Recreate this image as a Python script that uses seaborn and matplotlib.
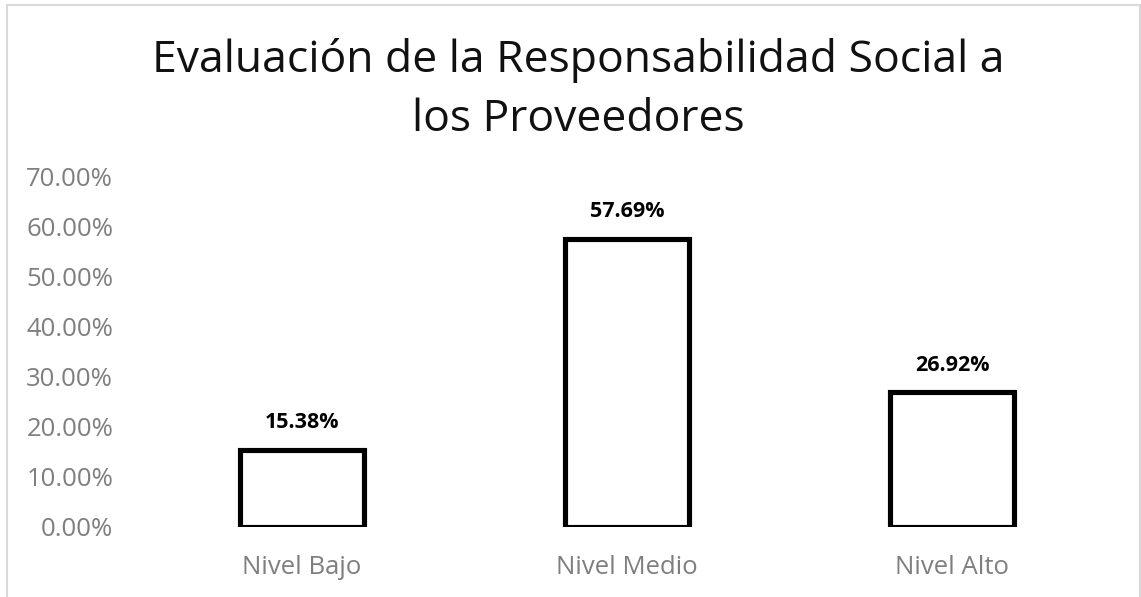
import pandas as pd
import seaborn as sns
import matplotlib.pyplot as plt
import matplotlib.ticker as ticker
from matplotlib.patches import Rectangle

# Chart data
categories = ['Nivel Bajo', 'Nivel Medio', 'Nivel Alto']
percentages = [0.1538, 0.5769, 0.2692]
title_text = 'Evaluación de la Responsabilidad Social a\nlos Proveedores'

df = pd.DataFrame({'Nivel': categories, 'Porcentaje': percentages})

sns.set_style('white')
plt.rcParams['font.family'] = ['Open Sans', 'DejaVu Sans']

fig = plt.figure(figsize=(11.41, 5.97), dpi=100)
ax = fig.add_axes([0.1223, 0.1173, 0.8545, 0.5863])

sns.barplot(x='Nivel', y='Porcentaje', data=df, ax=ax, color='white',
            edgecolor='black', linewidth=3.7, width=0.38)

ax.set_ylim(0, 0.70)
ax.set_xlim(-0.5, 2.5)
ax.yaxis.set_major_locator(ticker.MultipleLocator(0.10))
ax.yaxis.set_major_formatter(ticker.FuncFormatter(lambda v, _: f'{v * 100:.2f}%'))
ax.set_xlabel('')
ax.set_ylabel('')
ax.tick_params(axis='both', length=0, labelsize=18.5, labelcolor='#7f7f7f')
ax.tick_params(axis='x', pad=20)
ax.tick_params(axis='y', pad=19)
for spine in ax.spines.values():
    spine.set_visible(False)

for p, v in zip(ax.patches, percentages):
    ax.annotate(f'{v * 100:.2f}%', (p.get_x() + p.get_width() / 2., p.get_height()),
                xytext=(0, 12), textcoords='offset points', ha='center', va='bottom',
                fontsize=15.5, fontweight='bold', color='black')

fig.text(0.5066, 0.849, title_text, ha='center', va='center', fontsize=32,
         color='#111111', linespacing=1.42)

# light border around the chart area
fig.patches.append(Rectangle((0.006, -0.05), 0.993, 1.042, transform=fig.transFigure,
                             fill=False, edgecolor='#d9d9d9', linewidth=1.5))

plt.savefig('out.png', dpi=100)
